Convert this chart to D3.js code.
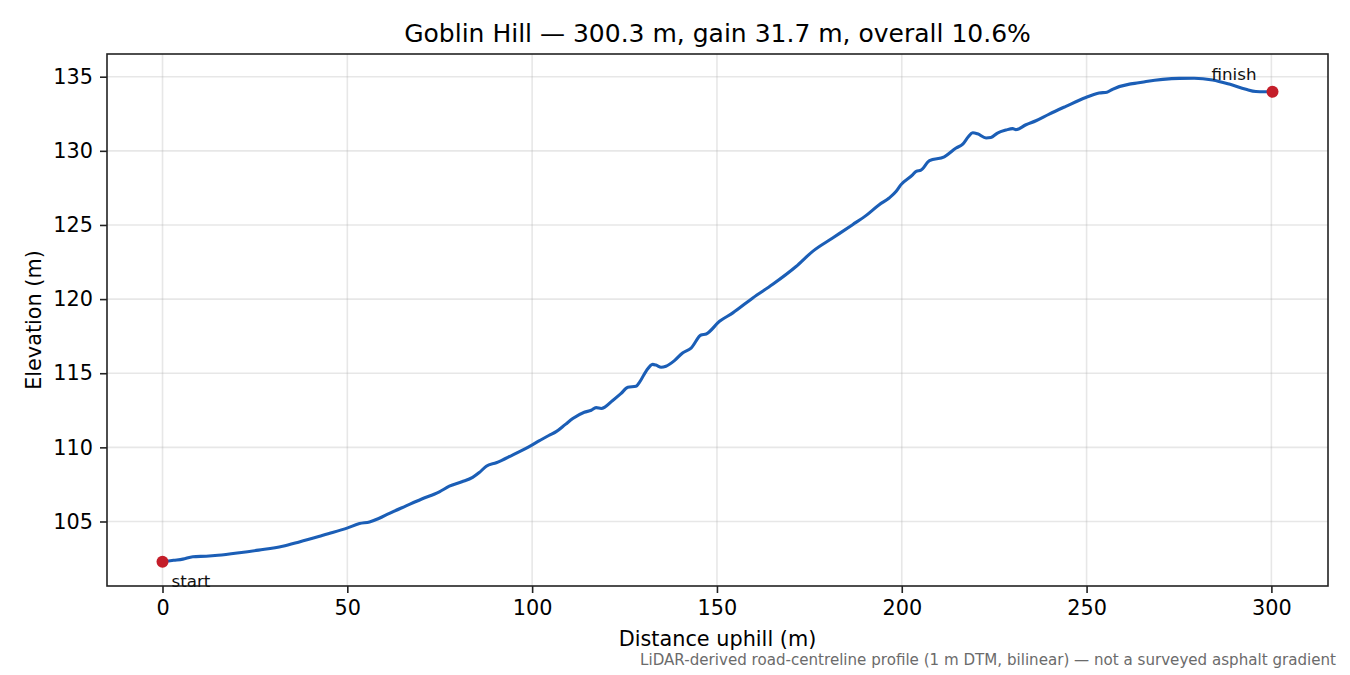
<!DOCTYPE html>
<html>
<head>
<meta charset="utf-8">
<script src="https://cdn.jsdelivr.net/npm/d3@7"></script>
<style>
  body { margin: 0; background: #fff; }
  svg { display: block; font-family: "DejaVu Sans", sans-serif; }
</style>
</head>
<body>
<div id="chart"></div>
<script>
// distance along the road (m) and elevation (m)
const distance = [0, 3, 5.5, 8.2, 11.8, 15, 20.8, 26, 32.5, 37, 42.5, 46, 50.1, 53.3, 56, 58.5, 61.4, 65.9, 70, 74.9,
  77.6, 81, 83.9, 85.7, 87.6, 90.3, 94.8, 99.7, 102, 104.5, 106.5, 109, 111, 114.1, 116, 117.3, 118.7, 121.8, 124, 125.9,
  128.1, 129.2, 130.8, 132.6, 133.5, 134.9, 136.2, 138.5, 140.7, 143, 145.7, 147.1, 150.7, 154.3, 159.7, 165.1, 171.4, 175.9,
  181.3, 186.7, 190.3, 193.9, 196.6, 198.5, 199.8, 203, 203.9, 205.2, 207.5, 211.5, 214.7, 216.5, 218, 219.2, 220.5, 222.8,
  224.1, 225.9, 228.2, 230, 230.9, 233.6, 236.3, 239.9, 244.4, 249.8, 253.4, 255.5, 257, 261.6, 263, 266.1, 270.6, 275.1, 279.1, 284.1,
  288.6, 293.1, 295.8, 298, 300.3];
const elevation = [102.28, 102.38, 102.46, 102.62, 102.66, 102.72, 102.89, 103.07, 103.33, 103.62, 104.0, 104.25, 104.57, 104.86, 104.97, 105.2, 105.55, 106.05, 106.5, 107.0,
  107.38, 107.68, 107.98, 108.3, 108.73, 108.96, 109.5, 110.12, 110.45, 110.8, 111.06, 111.55, 111.94, 112.37, 112.5, 112.68, 112.62, 113.16, 113.62, 114.05,
  114.12, 114.45, 115.13, 115.6, 115.55, 115.4, 115.47, 115.85, 116.37, 116.7, 117.58, 117.65, 118.5, 119.07, 120.08, 121.0, 122.2, 123.22,
  124.12, 125.02, 125.63, 126.37, 126.82, 127.27, 127.72, 128.39, 128.62, 128.7, 129.34, 129.6, 130.19, 130.45, 130.95, 131.22, 131.15, 130.87,
  130.9, 131.2, 131.4, 131.5, 131.43, 131.76, 132.03, 132.48, 133.0, 133.6, 133.9, 133.95, 134.15, 134.5, 134.55, 134.68, 134.82, 134.89, 134.9, 134.78,
  134.5, 134.15, 134.0, 133.98, 133.98];
const xTicks = [0, 50, 100, 150, 200, 250, 300];
const yTicks = [105, 110, 115, 120, 125, 130, 135];

const titleText = "Goblin Hill \u2014 300.3 m, gain 31.7 m, overall 10.6%";
const footText = "LiDAR-derived road-centreline profile (1 m DTM, bilinear) \u2014 not a surveyed asphalt gradient";

let width = 1350;
let height = 675;
const margin = { top: 54, right: 22, bottom: 89, left: 107 };

const svg = d3.select('#chart')
  .append('svg')
  .attr('width', width)
  .attr('height', height);

const w = width - margin.left - margin.right;
const h = height - margin.top - margin.bottom;

const g = svg.append('g')
  .attr('transform', 'translate(' + margin.left + ',' + margin.top + ')');

const data = distance.map((d, i) => ({ d: d, e: elevation[i] }));

// matplotlib-style 5% padding
const xExt = d3.extent(distance), yExt = d3.extent(elevation);
const xPad = (xExt[1] - xExt[0]) * 0.05, yPad = (yExt[1] - yExt[0]) * 0.05;

const x = d3.scaleLinear().domain([xExt[0] - xPad, xExt[1] + xPad]).range([0, w]);
const y = d3.scaleLinear().domain([yExt[0] - yPad, yExt[1] + yPad]).range([h, 0]);

// grid
g.append('g').selectAll('line').data(xTicks).enter().append('line')
  .attr('x1', d => x(d)).attr('x2', d => x(d))
  .attr('y1', 0).attr('y2', h)
  .attr('stroke', '#b0b0b0').attr('stroke-opacity', 0.3).attr('stroke-width', 1.6);
g.append('g').selectAll('line').data(yTicks).enter().append('line')
  .attr('y1', d => y(d)).attr('y2', d => y(d))
  .attr('x1', 0).attr('x2', w)
  .attr('stroke', '#b0b0b0').attr('stroke-opacity', 0.3).attr('stroke-width', 1.6);

// axes
const xAxis = d3.axisBottom(x).tickValues(xTicks).tickSize(7).tickPadding(7).tickSizeOuter(0);
const yAxis = d3.axisLeft(y).tickValues(yTicks).tickSize(7).tickPadding(7).tickSizeOuter(0);

const gx = g.append('g').attr('transform', 'translate(0,' + h + ')').call(xAxis);
const gy = g.append('g').call(yAxis);
[gx, gy].forEach(a => {
  a.select('.domain').remove();
  a.selectAll('line').attr('stroke', '#222').attr('stroke-width', 1.6);
  a.selectAll('text').attr('fill', '#000').style('font-size', '20.8px').style('font-family', '"DejaVu Sans", sans-serif');
});

// frame
g.append('rect')
  .attr('width', w).attr('height', h)
  .attr('fill', 'none').attr('stroke', '#222').attr('stroke-width', 1.6);

// profile
const line = d3.line()
  .x(d => x(d.d))
  .y(d => y(d.e))
  .curve(d3.curveMonotoneX);

g.append('path')
  .datum(data)
  .attr('d', line)
  .attr('fill', 'none')
  .attr('stroke', '#1b5eb6')
  .attr('stroke-width', 3.1)
  .attr('stroke-linejoin', 'round');

// end points
const ends = [data[0], data[data.length - 1]];
g.selectAll('.endpt').data(ends).enter().append('circle')
  .attr('class', 'endpt')
  .attr('cx', d => x(d.d)).attr('cy', d => y(d.e))
  .attr('r', 6)
  .attr('fill', '#c41e2a');

g.append('text')
  .attr('x', x(ends[0].d) + 9).attr('y', y(ends[0].e) + 25)
  .style('font-size', '16.7px').attr('fill', '#111')
  .text('start');
g.append('text')
  .attr('x', x(ends[1].d) - 16).attr('y', y(ends[1].e) - 12)
  .attr('text-anchor', 'end')
  .style('font-size', '16.7px').attr('fill', '#111')
  .text('finish');

// labels
svg.append('text')
  .attr('x', margin.left + w / 2).attr('y', 42)
  .attr('text-anchor', 'middle')
  .style('font-size', '25px').attr('fill', '#000')
  .text(titleText);

svg.append('text')
  .attr('x', margin.left + w / 2).attr('y', 646)
  .attr('text-anchor', 'middle')
  .style('font-size', '20.8px').attr('fill', '#000')
  .text('Distance uphill (m)');

svg.append('text')
  .attr('transform', 'translate(41,' + (margin.top + h / 2) + ') rotate(-90)')
  .attr('text-anchor', 'middle')
  .style('font-size', '20.8px').attr('fill', '#000')
  .text('Elevation (m)');

svg.append('text')
  .attr('x', 1336).attr('y', 665)
  .attr('text-anchor', 'end')
  .style('font-size', '15.1px').attr('fill', '#6b6b6b')
  .text(footText);
</script>
</body>
</html>
